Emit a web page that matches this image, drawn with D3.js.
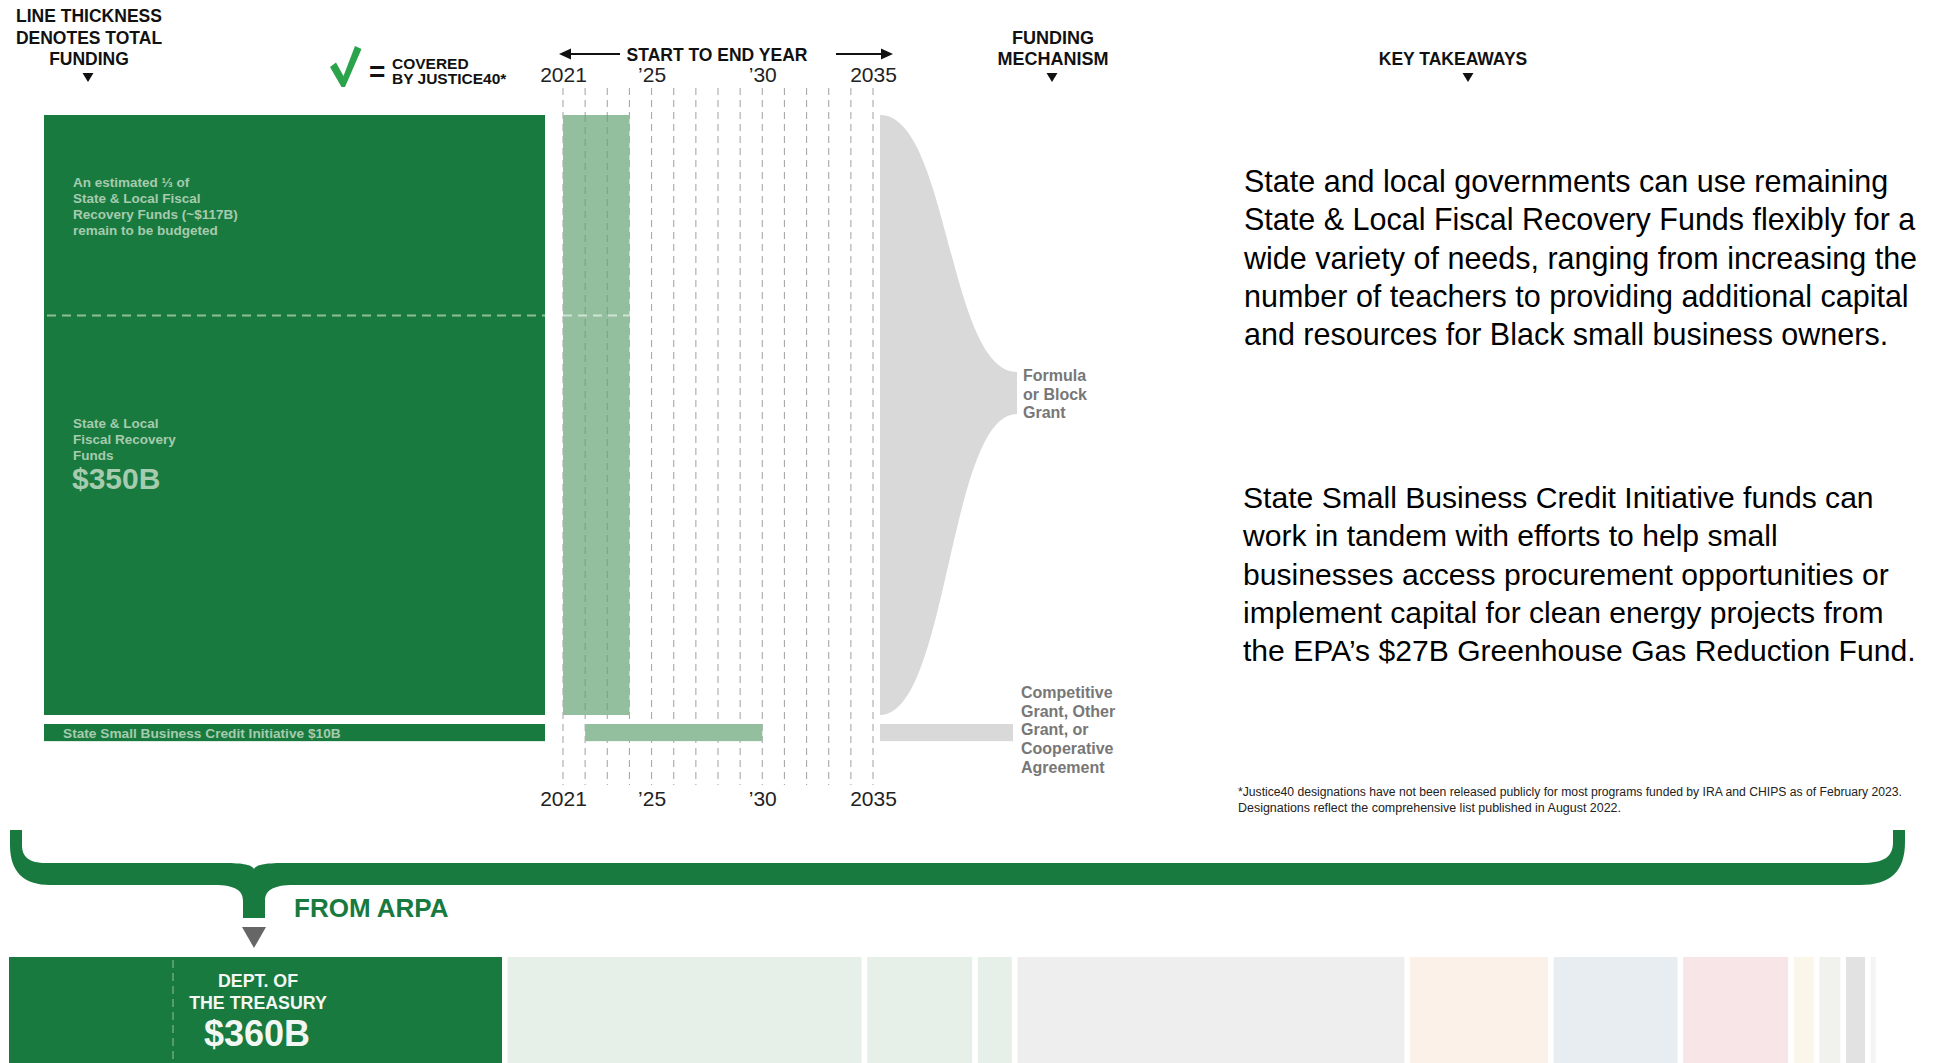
<!DOCTYPE html>
<html>
<head>
<meta charset="utf-8">
<script src="https://cdn.jsdelivr.net/npm/d3@7/dist/d3.min.js"></script>
<style>
  html, body { margin: 0; padding: 0; background: #ffffff; }
  svg { display: block; }
  .hdr { font-family: "Liberation Sans", Arial, sans-serif; font-weight: 700; fill: #111; }
</style>
</head>
<body>
<svg id="chart" width="1933" height="1063"></svg>
<script>
// ---------------- DATA ----------------
const programs = ["State & Local Fiscal Recovery Funds", "State Small Business Credit Initiative"];
const programFunding = [350, 10];           // $B
const programStart = [2021, 2022];
const programEnd = [2024, 2030];
const programMechanism = [
  ["Formula", "or Block", "Grant"],
  ["Competitive", "Grant, Other", "Grant, or", "Cooperative", "Agreement"]
];
const remainingToBudget = 117;              // $B of SLFRF not yet budgeted
const yearTicks = [2021, 2025, 2030, 2035];
const yearTickLabels = ["2021", "\u201925", "\u201930", "2035"];
const takeaways = [
  ["State and local governments can use remaining",
   "State & Local Fiscal Recovery Funds flexibly for a",
   "wide variety of needs, ranging from increasing the",
   "number of teachers to providing additional capital",
   "and resources for Black small business owners."],
  ["State Small Business Credit Initiative funds can",
   "work in tandem with efforts to help small",
   "businesses access procurement opportunities or",
   "implement capital for clean energy projects from",
   "the EPA\u2019s $27B Greenhouse Gas Reduction Fund."]
];
const footnote = [
  "*Justice40 designations have not been released publicly for most programs funded by IRA and CHIPS as of February 2023.",
  "Designations reflect the comprehensive list published in August 2022."
];
const agencyFunding = [360, 258.5, 76.7, 24.8, 282.6, 100.8, 90.5, 76.7, 14.6, 15.3, 13.9, 3.7];
const agencyColors = ["#187a3e", "#e6f0e8", "#e6f0e8", "#e6f0e8", "#eeeeee", "#fcf1e8",
                      "#e8edf1", "#f7e5e8", "#faf6e9", "#f1f1ee", "#e2e2e2", "#f4f4f4"];

// ---------------- SETUP ----------------
const svg = d3.select("#chart");
const GREEN = "#187a3e", LIGHTGREEN = "#93bf9e", ONGREEN = "#a6cbae", GRAY = "#d9d9da", MECH = "#777777";
const FONT = "'Liberation Sans', Arial, sans-serif";

// scales
const hScale = d3.scaleLinear().domain([0, 350]).range([0, 600]);
const xYear = d3.scaleLinear().domain([2021, 2035]).range([563, 873]);
const barX0 = 44, barX1 = 545, top0 = 115, gapY = 9;
const tops = [];
let yy = top0;
programFunding.forEach((v, i) => { tops.push(yy); yy += hScale(v) + gapY; });

// ---------------- HEADERS ----------------
function triangle(cx, y) {
  svg.append("path").attr("d", `M${cx - 5.5},${y} L${cx + 5.5},${y} L${cx},${y + 9} Z`).attr("fill", "#111");
}
const h1 = svg.append("text").attr("class", "hdr").attr("text-anchor", "middle").attr("font-size", 17.5);
["LINE THICKNESS", "DENOTES TOTAL", "FUNDING"].forEach((t, i) =>
  h1.append("tspan").attr("x", 89).attr("y", 22 + i * 21.5).text(t));
triangle(88, 73);

// check legend
svg.append("path")
  .attr("d", "M330,67 L336,62.5 L343.5,76 L355,46 L361.5,49 L345,87 L341.5,87 Z")
  .attr("fill", "#2aa34b");
svg.append("text").attr("class", "hdr").attr("x", 369).attr("y", 81).attr("font-size", 28).text("=");
const leg = svg.append("text").attr("class", "hdr").attr("font-size", 15.5);
leg.append("tspan").attr("x", 392).attr("y", 69).text("COVERED");
leg.append("tspan").attr("x", 392).attr("y", 84).text("BY JUSTICE40*");

// start to end header
svg.append("text").attr("class", "hdr").attr("x", 717).attr("y", 61).attr("text-anchor", "middle")
  .attr("font-size", 17.5).text("START TO END YEAR");
svg.append("line").attr("x1", 566).attr("x2", 620).attr("y1", 54).attr("y2", 54).attr("stroke", "#111").attr("stroke-width", 2);
svg.append("path").attr("d", "M559,54 L571,48.5 L571,59.5 Z").attr("fill", "#111");
svg.append("line").attr("x1", 836).attr("x2", 886).attr("y1", 54).attr("y2", 54).attr("stroke", "#111").attr("stroke-width", 2);
svg.append("path").attr("d", "M893,54 L881,48.5 L881,59.5 Z").attr("fill", "#111");

const h2 = svg.append("text").attr("class", "hdr").attr("text-anchor", "middle").attr("font-size", 18);
["FUNDING", "MECHANISM"].forEach((t, i) => h2.append("tspan").attr("x", 1053).attr("y", 44 + i * 21).text(t));
triangle(1052, 73);
svg.append("text").attr("class", "hdr").attr("text-anchor", "middle").attr("font-size", 17.5)
  .attr("x", 1453).attr("y", 65).text("KEY TAKEAWAYS");
triangle(1468, 73);

// ---------------- YEAR GRID ----------------
svg.append("g").selectAll("line").data(d3.range(2021, 2036)).join("line")
  .attr("x1", d => xYear(d)).attr("x2", d => xYear(d))
  .attr("y1", 88).attr("y2", 785)
  .attr("stroke", "#a9a9a9").attr("stroke-width", 1.1).attr("stroke-dasharray", "7,5");

const axisTop = d3.axisTop(xYear).tickValues(yearTicks).tickFormat((d, i) => yearTickLabels[i]).tickSize(0).tickPadding(0);
const axisBot = d3.axisBottom(xYear).tickValues(yearTicks).tickFormat((d, i) => yearTickLabels[i]).tickSize(0).tickPadding(0);
[[axisTop, 82], [axisBot, 806]].forEach(([ax, y]) => {
  const g = svg.append("g").attr("transform", `translate(0,${y})`).call(ax);
  g.select(".domain").remove();
  g.selectAll("text").attr("font-family", FONT).attr("font-size", 21).attr("fill", "#222")
    .attr("dy", 0).attr("y", 0);
});

// ---------------- PROGRAM BARS ----------------
const prog = svg.append("g");
prog.selectAll("rect.fund").data(programFunding).join("rect").attr("class", "fund")
  .attr("x", barX0).attr("width", barX1 - barX0)
  .attr("y", (d, i) => tops[i]).attr("height", d => hScale(d)).attr("fill", GREEN);

prog.selectAll("rect.time").data(programFunding).join("rect").attr("class", "time")
  .attr("x", (d, i) => xYear(programStart[i])).attr("width", (d, i) => xYear(programEnd[i]) - xYear(programStart[i]))
  .attr("y", (d, i) => tops[i]).attr("height", d => hScale(d)).attr("fill", LIGHTGREEN);

// grid lines visible through the light bar
svg.append("g").selectAll("line").data(d3.range(programStart[0] + 1, programEnd[0])).join("line")
  .attr("x1", d => xYear(d)).attr("x2", d => xYear(d))
  .attr("y1", tops[0]).attr("y2", tops[0] + hScale(programFunding[0]))
  .attr("stroke", "#78a584").attr("stroke-width", 1.1).attr("stroke-dasharray", "7,5");

// remaining-to-budget dashed line
const yRem = tops[0] + hScale(remainingToBudget);
svg.append("line").attr("x1", barX0 + 3).attr("x2", barX1).attr("y1", yRem).attr("y2", yRem)
  .attr("stroke", "#8dbd98").attr("stroke-width", 2).attr("stroke-dasharray", "9,6");
svg.append("line").attr("x1", xYear(programStart[0])).attr("x2", xYear(programEnd[0])).attr("y1", yRem).attr("y2", yRem)
  .attr("stroke", "#cfe3d4").attr("stroke-width", 2).attr("stroke-dasharray", "9,6");

// text in big bar
const t1 = svg.append("text").attr("font-family", FONT).attr("font-weight", 700).attr("font-size", 13.5).attr("fill", ONGREEN);
["An estimated \u2153 of", "State & Local Fiscal", "Recovery Funds (~$117B)", "remain to be budgeted"].forEach((t, i) =>
  t1.append("tspan").attr("x", 73).attr("y", 187 + i * 16).text(t));
const t2 = svg.append("text").attr("font-family", FONT).attr("font-weight", 700).attr("font-size", 13.5).attr("fill", ONGREEN);
["State & Local", "Fiscal Recovery", "Funds"].forEach((t, i) =>
  t2.append("tspan").attr("x", 73).attr("y", 428 + i * 16).text(t));
svg.append("text").attr("font-family", FONT).attr("font-weight", 700).attr("font-size", 30).attr("fill", ONGREEN)
  .attr("x", 72).attr("y", 489).text("$" + programFunding[0] + "B");
svg.append("text").attr("font-family", FONT).attr("font-weight", 700).attr("font-size", 13.7).attr("fill", ONGREEN)
  .attr("x", 63).attr("y", tops[1] + hScale(programFunding[1]) / 2 + 5)
  .text(programs[1] + " $" + programFunding[1] + "B");

// ---------------- FUNDING MECHANISM ----------------
const fx0 = 880, fx1 = 1017, fxm = (fx0 + fx1) / 2;
const tipTop = 372, tipBot = 414;
const b0 = tops[0], b1 = tops[0] + hScale(programFunding[0]);
svg.append("path")
  .attr("d", `M${fx0},${b0} C${fxm},${b0} ${fxm},${tipTop} ${fx1},${tipTop} L${fx1},${tipBot} C${fxm},${tipBot} ${fxm},${b1} ${fx0},${b1} Z`)
  .attr("fill", GRAY);
svg.append("rect").attr("x", fx0).attr("width", 1013 - fx0)
  .attr("y", tops[1]).attr("height", hScale(programFunding[1])).attr("fill", GRAY);

const m1 = svg.append("text").attr("font-family", FONT).attr("font-weight", 700).attr("font-size", 16).attr("fill", MECH);
programMechanism[0].forEach((t, i) => m1.append("tspan").attr("x", 1023).attr("y", 381 + i * 18.6).text(t));
const m2 = svg.append("text").attr("font-family", FONT).attr("font-weight", 700).attr("font-size", 16).attr("fill", MECH);
programMechanism[1].forEach((t, i) => m2.append("tspan").attr("x", 1021).attr("y", 698 + i * 18.7).text(t));

// ---------------- KEY TAKEAWAYS ----------------
[[1244, 192, 30.5], [1243, 508, 30.1]].forEach(([x, y, fs], k) => {
  const t = svg.append("text").attr("font-family", FONT).attr("font-size", fs).attr("fill", "#000");
  takeaways[k].forEach((line, i) => t.append("tspan").attr("x", x).attr("y", y + i * 38.3).text(line));
});
const fnWidths = [664, 383];
footnote.forEach((line, i) => {
  svg.append("text").attr("font-family", FONT).attr("font-size", 12.3).attr("fill", "#222")
    .attr("x", 1238).attr("y", 796 + i * 16)
    .attr("textLength", fnWidths[i]).attr("lengthAdjust", "spacingAndGlyphs")
    .text(line);
});

// ---------------- BRACE ----------------
const cx = 254, yT = 863, yB = 885, yTop = 830, stemB = 918;
const braceD = [
  `M10,${yTop} L22,${yTop} L22,845`,
  `C22,857 29,${yT} 46,${yT}`,
  `L${cx - 30},${yT} C${cx - 10},${yT} ${cx - 2},${yT + 2} ${cx},${yT + 6}`,
  `C${cx + 2},${yT + 2} ${cx + 10},${yT} ${cx + 30},${yT}`,
  `L1862,${yT} C1884,${yT} 1893,857 1893,842 L1893,${yTop} L1905,${yTop} L1905,842`,
  `C1905,872 1890,${yB} 1860,${yB}`,
  `L${cx + 40},${yB} C${cx + 18},${yB} ${cx + 11},${yB + 6} ${cx + 11},${yB + 16} L${cx + 11},${stemB}`,
  `L${cx - 11},${stemB} L${cx - 11},${yB + 16} C${cx - 11},${yB + 6} ${cx - 18},${yB} ${cx - 40},${yB}`,
  `L50,${yB} C24,${yB} 10,872 10,845 Z`
].join(" ");
svg.append("path").attr("d", braceD).attr("fill", GREEN);
svg.append("path").attr("d", `M${cx - 12},927 L${cx + 12},927 L${cx},948 Z`).attr("fill", "#666666");
svg.append("text").attr("font-family", FONT).attr("font-weight", 700).attr("font-size", 26).attr("fill", GREEN)
  .attr("x", 294).attr("y", 917).text("FROM ARPA");

// ---------------- AGENCY STRIP ----------------
const wScale = d3.scaleLinear().domain([0, 360]).range([0, 493]);
const gapX = 5.6;
let ax = 9;
const agencyX = agencyFunding.map(v => { const x = ax; ax += wScale(v) + gapX; return x; });
svg.append("g").selectAll("rect").data(agencyFunding).join("rect")
  .attr("x", (d, i) => agencyX[i]).attr("width", d => wScale(d))
  .attr("y", 957).attr("height", 1063 - 957)
  .attr("fill", (d, i) => agencyColors[i]);
svg.append("line").attr("x1", 173).attr("x2", 173).attr("y1", 960).attr("y2", 1063)
  .attr("stroke", "#6aa97b").attr("stroke-width", 1.5).attr("stroke-dasharray", "8,5");
const dt = svg.append("text").attr("font-family", FONT).attr("font-weight", 700).attr("fill", "#f3f7f4").attr("text-anchor", "middle");
dt.append("tspan").attr("x", 258).attr("y", 987).attr("font-size", 17.8).text("DEPT. OF");
dt.append("tspan").attr("x", 258).attr("y", 1009).attr("font-size", 17.8).text("THE TREASURY");
dt.append("tspan").attr("x", 257).attr("y", 1046).attr("font-size", 36).text("$" + agencyFunding[0] + "B");
</script>
</body>
</html>
